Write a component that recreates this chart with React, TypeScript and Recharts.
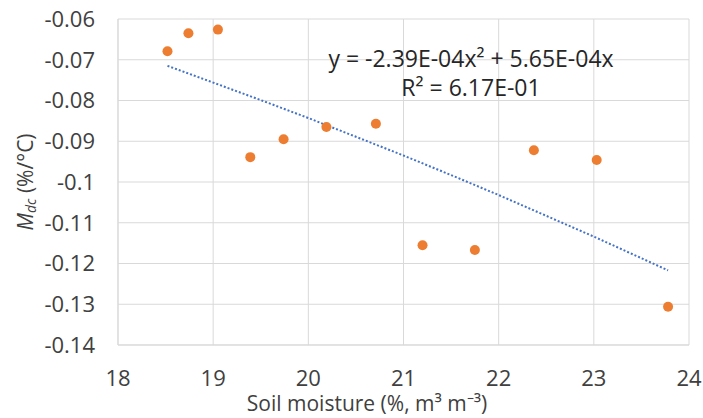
import { ScatterChart, Scatter, XAxis, YAxis, CartesianGrid } from "recharts"

// soil moisture (%) vs M_dc (%/°C)
const moisture = [18.52, 18.74, 19.05, 19.39, 19.74, 20.19, 20.71, 21.2, 21.75, 22.37, 23.03, 23.78]
const mdc = [-0.0679, -0.0635, -0.0626, -0.0939, -0.0895, -0.0865, -0.0857, -0.1155, -0.1167, -0.0922, -0.0946, -0.1306]

// polynomial trendline as drawn
const trendX = [18.52, 19.0, 19.5, 20.0, 20.5, 21.0, 21.5, 22.0, 22.5, 23.0, 23.5, 23.78]
const trendY = [-0.0715, -0.0756, -0.0799, -0.0843, -0.0889, -0.0935, -0.0983, -0.1032, -0.1083, -0.1134, -0.1187, -0.1217]

const xTicks = [18, 19, 20, 21, 22, 23, 24]
const yTicks = [-0.14, -0.13, -0.12, -0.11, -0.1, -0.09, -0.08, -0.07, -0.06]

const points = moisture.map((x, i) => ({ x, y: mdc[i] }))
const trend = trendX.map((x, i) => ({ x, y: trendY[i] }))

const font = "Open Sans, sans-serif"
const grid = "#d9d9d9"

const YLabel = (props: any) => {
  const vb = props.viewBox || {}
  const cx = 25
  const cy = vb.y + vb.height / 2
  return (
    <text
      x={cx}
      y={cy}
      transform={`rotate(-90, ${cx}, ${cy})`}
      textAnchor="middle"
      dominantBaseline="central"
      fontFamily={font}
      fontSize={21}
      fill="#404040"
    >
      <tspan fontStyle="italic">M</tspan>
      <tspan fontStyle="italic" fontSize={14} dy={5}>dc</tspan>
      <tspan dy={-5}> (%/°C)</tspan>
    </text>
  )
}

const XLabel = () => (
  <text x={367} y={411} textAnchor="middle" fontFamily={font} fontSize={21} fill="#404040">
    Soil moisture (%, m³ m⁻³)
  </text>
)

export default function App() {
  return (
    <div style={{ position: "absolute", left: 0, top: 0, width: 703, height: 418, background: "#fff" }}>
      <ScatterChart width={703} height={418} margin={{ top: 19, right: 14, bottom: 0, left: 0 }}>
        <CartesianGrid stroke={grid} strokeWidth={1} />
        <XAxis
          type="number"
          dataKey="x"
          domain={[18, 24]}
          ticks={xTicks}
          height={73}
          axisLine={{ stroke: grid }}
          tickLine={false}
          tickSize={0}
          tickMargin={25}
          tick={{ fontFamily: font, fontSize: 22, fill: "#404040" }}
          label={<XLabel />}
        />
        <YAxis
          type="number"
          dataKey="y"
          domain={[-0.14, -0.06]}
          ticks={yTicks}
          width={118}
          axisLine={{ stroke: grid }}
          tickLine={false}
          tickSize={0}
          tickMargin={23}
          tick={{ fontFamily: font, fontSize: 22, fill: "#404040" }}
          tickFormatter={(v: number) => String(v)}
          label={<YLabel />}
        />
        <Scatter
          data={trend}
          isAnimationActive={false}
          line={{ stroke: "#4472C4", strokeWidth: 2, strokeDasharray: "2 2" }}
          lineType="joint"
          shape={() => <g />}
        />
        <Scatter data={points} fill="#ED7D31" isAnimationActive={false} shape={(p: any) => <circle cx={p.cx} cy={p.cy} r={5} fill="#ED7D31" />} />
      </ScatterChart>
      <div
        style={{
          position: "absolute",
          left: 271,
          width: 400,
          top: 44,
          textAlign: "center",
          fontFamily: font,
          fontSize: 23,
          lineHeight: "29px",
          color: "#262626",
        }}
      >
        <div>y = -2.39E-04x² + 5.65E-04x</div>
        <div>R² = 6.17E-01</div>
      </div>
    </div>
  )
}
